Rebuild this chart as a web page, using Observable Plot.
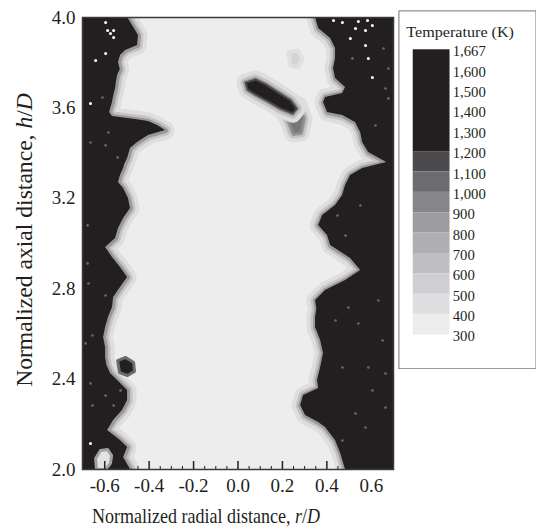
<!DOCTYPE html>
<html><head><meta charset="utf-8">
<script src="https://cdn.jsdelivr.net/npm/d3@7"></script>
<script src="https://cdn.jsdelivr.net/npm/@observablehq/plot@0.6"></script>
<style>
html,body{margin:0;padding:0;background:#fff;overflow:hidden;width:536px;height:530px;}
#wrap{position:relative;width:536px;height:530px;}
#main{position:absolute;left:0;top:0;}
#legend{position:absolute;left:398px;top:10px;}
</style></head><body><div id="wrap"><div id="main"></div><div id="legend"></div></div>
<script>
// ---- data: [h/D, r/D] ----
const leftEdge = [
  [4.000,-0.497],[3.965,-0.475],[3.920,-0.448],[3.876,-0.452],[3.854,-0.506],[3.832,-0.529],
  [3.801,-0.538],[3.770,-0.530],[3.743,-0.542],[3.710,-0.548],[3.686,-0.551],[3.650,-0.560],[3.624,-0.565],[3.580,-0.578],[3.562,-0.565],
  [3.549,-0.461],[3.540,-0.403],[3.522,-0.362],[3.500,-0.326],[3.478,-0.403],[3.447,-0.452],
  [3.420,-0.484],[3.376,-0.497],[3.350,-0.510],[3.332,-0.515],[3.301,-0.529],[3.270,-0.538],[3.243,-0.515],
  [3.199,-0.493],[3.155,-0.484],[3.111,-0.515],[3.066,-0.538],[3.022,-0.551],[2.982,-0.596],
  [2.938,-0.565],[2.894,-0.529],[2.850,-0.497],[2.805,-0.529],[2.761,-0.560],[2.717,-0.565],
  [2.673,-0.583],[2.628,-0.596],[2.584,-0.605],[2.540,-0.596],[2.496,-0.596],[2.460,-0.590],[2.425,-0.574],
  [2.394,-0.542],[2.350,-0.497],[2.305,-0.497],[2.261,-0.520],[2.217,-0.560],[2.173,-0.587],
  [2.128,-0.529],[2.097,-0.497],[2.053,-0.515],[2.000,-0.484]
];
const rightEdge = [
  [4.000,0.349],[3.951,0.363],[3.907,0.417],[3.863,0.439],[3.819,0.439],[3.774,0.430],
  [3.730,0.439],[3.690,0.484],[3.664,0.471],[3.646,0.394],[3.624,0.385],[3.580,0.403],
  [3.566,0.471],[3.535,0.529],[3.491,0.552],[3.447,0.561],[3.403,0.588],[3.358,0.669],
  [3.332,0.561],[3.301,0.507],[3.257,0.484],[3.212,0.471],[3.168,0.439],[3.124,0.381],
  [3.080,0.363],[3.035,0.403],[2.991,0.417],[2.934,0.507],[2.881,0.552],[2.836,0.484],
  [2.792,0.394],[2.748,0.349],[2.710,0.355],[2.673,0.349],[2.628,0.349],[2.571,0.372],[2.513,0.385],
  [2.451,0.372],[2.394,0.358],[2.358,0.363],[2.327,0.295],[2.283,0.282],[2.239,0.304],
  [2.208,0.363],[2.186,0.394],[2.128,0.439],[2.071,0.462],[2.000,0.484]
];
// hot pocket inside the cold core (upper right)
const hotIsland = [
  [3.712,0.034],[3.726,0.079],[3.704,0.124],[3.668,0.182],[3.633,0.237],[3.597,0.264],
  [3.575,0.246],[3.597,0.191],[3.628,0.137],[3.659,0.079],[3.681,0.043]
];
const warmTail = [
  [3.633,0.214],[3.611,0.273],[3.553,0.295],[3.491,0.282],[3.487,0.250],[3.544,0.228],[3.588,0.200]
];
const hotSpot = [
  [2.482,-0.542],[2.496,-0.506],[2.473,-0.470],[2.434,-0.466],[2.416,-0.497],[2.429,-0.533]
];
const warmSmudge = [
  [3.845,0.227],[3.854,0.268],[3.819,0.290],[3.779,0.272],[3.788,0.236]
];
const coldBlob = [
  [2.000,-0.637],[2.049,-0.641],[2.084,-0.619],[2.088,-0.587],[2.062,-0.569],[2.027,-0.574],[2.000,-0.596]
];
const coldSpecks = [
  [3.978,-0.596],[3.942,-0.587],[3.929,-0.574],[3.942,-0.560],[3.912,-0.560],[3.841,-0.596],
  [3.810,-0.641],[3.619,-0.664],[3.987,0.430],[3.978,0.470],[3.982,0.542],[3.987,0.583],
  [3.965,0.605],[3.951,0.529],[3.942,0.574],[3.907,0.506],[3.876,0.574],[3.819,0.587],
  [3.735,0.605],[2.115,-0.664]
];
const warmSpecks = [
  [2.912,-0.677],[2.823,-0.673],[2.770,-0.596],[2.593,-0.655],[2.558,-0.686],[2.381,-0.664],
  [2.327,-0.596],[2.283,-0.655],[2.283,-0.560],[2.350,-0.529],[3.381,-0.542],[3.491,-0.583],
  [3.434,-0.596],[3.447,-0.664],[3.646,-0.610],[3.080,-0.677],
  [2.659,0.439],[2.646,0.542],[2.571,0.651],[2.451,0.587],[2.425,0.664],[2.248,0.529],
  [2.350,0.605],[2.451,0.470],[2.717,0.497],[2.748,0.632],[2.186,0.574],[2.274,0.664],
  [2.128,0.470],[3.774,0.677],[3.686,0.664],[3.642,0.677],[3.863,0.655],[3.522,0.619],
  [3.819,0.515],[3.124,0.448],[3.035,0.484],[3.168,0.551]
];
const xTicks = [-0.6, -0.4, -0.2, 0.0, 0.2, 0.4, 0.6];
const xMinorTicks = [-0.65,-0.55,-0.5,-0.45,-0.35,-0.3,-0.25,-0.15,-0.1,-0.05,0.05,0.1,0.15,0.25,0.3,0.35,0.45,0.5,0.55,0.65];
const yTicks = [2.0, 2.4, 2.8, 3.2, 3.6, 4.0];
// legend
const legendTicks = [1667, 1600, 1500, 1400, 1300, 1200, 1100, 1000, 900, 800, 700, 600, 500, 400, 300];
const bandLow  = [1200, 1100, 1000, 900, 800, 700, 600, 500, 400, 300];
const bandHigh = [1667, 1200, 1100, 1000, 900, 800, 700, 600, 500, 400];
const bandColors = ["#231f20","#4b4b4e","#6c6c70","#86868a","#9d9da0","#afafb2","#bfbfc1","#cfcfd1","#dfdfe1","#ededed"];

// ---- build ----
const BLACK = "#231f20", LIGHT = "#ededed";
const pts = a => a.map(([h, r]) => ({h, r}));
const L = pts(leftEdge), R = pts(rightEdge);
const curve = "linear", closed = "linear-closed";
const halo = (d, c) => [
  Plot.line(d, {x: "r", y: "h", stroke: "#dedede", strokeWidth: 18, curve: c, clip: true}),
  Plot.line(d, {x: "r", y: "h", stroke: "#c4c4c6", strokeWidth: 10, curve: c, clip: true}),
  Plot.line(d, {x: "r", y: "h", stroke: "#9a9a9d", strokeWidth: 5, curve: c, clip: true})
];

const main = Plot.plot({
  width: 536, height: 530,
  marginLeft: 82, marginRight: 143, marginTop: 17, marginBottom: 61,
  x: {domain: [-0.7, 0.7]},
  y: {domain: [2, 4]},
  style: {fontFamily: "Liberation Serif", fontSize: "19px", color: BLACK, background: "transparent"},
  marks: [
    Plot.frame({fill: LIGHT}),
    ...halo(L, curve), ...halo(R, curve),
    Plot.areaX(L, {y: "h", x1: -0.7, x2: "r", fill: BLACK, curve}),
    Plot.areaX(R, {y: "h", x1: "r", x2: 0.7, fill: BLACK, curve}),
    Plot.line(pts(warmSmudge), {x: "r", y: "h", fill: "#d4d4d6", stroke: "#e0e0e0", strokeWidth: 4, curve: closed}),
    ...halo(pts(warmTail), closed),
    Plot.line(pts(warmTail), {x: "r", y: "h", fill: "#77777a", stroke: "#8a8a8d", strokeWidth: 2, curve: closed}),
    ...halo(pts(hotIsland), closed),
    Plot.line(pts(hotIsland), {x: "r", y: "h", fill: BLACK, stroke: "#4b4b4e", strokeWidth: 2, curve: closed}),
    Plot.line(pts(hotSpot), {x: "r", y: "h", fill: BLACK, stroke: "#6c6c70", strokeWidth: 3, curve: closed}),
    Plot.line(pts(coldBlob), {x: "r", y: "h", fill: "#e2e2e3", stroke: "#a0a0a3", strokeWidth: 3, curve: closed, clip: true}),
    Plot.dot(pts(warmSpecks), {x: "r", y: "h", r: 1.3, fill: "#6a6a6d"}),
    Plot.dot(pts(coldSpecks), {x: "r", y: "h", r: 1.5, fill: "#ffffff"}),
    Plot.ruleX(xTicks, {x: d => d, insetTop: 444, stroke: BLACK, strokeWidth: 1.5}),
    Plot.ruleX(xMinorTicks, {x: d => d, insetTop: 449, stroke: BLACK, strokeWidth: 1}),
    Plot.axisX(xTicks, {tickSize: 0, tickPadding: 9, tickFormat: d => d.toFixed(1), label: null, fill: BLACK}),
    Plot.axisY(yTicks, {tickSize: 0, tickPadding: 7, tickFormat: d => d.toFixed(1), label: null, fill: BLACK}),
    Plot.frame({stroke: "#3a3a3a", strokeWidth: 1.5})
  ]
});
document.getElementById("main").appendChild(main);

// axis titles (fitted to the lengths seen in the reference)
const svg = d3.select(main.tagName.toLowerCase() === "svg" ? main : main.querySelector("svg"));
function title(parentSel, parts, size, tx, ty, rot, targetLen, anchor) {
  const t = parentSel.append("text")
    .attr("text-anchor", anchor)
    .attr("font-family", "Liberation Serif").attr("font-size", size).attr("fill", BLACK);
  parts.forEach(([s, it]) => { const sp = t.append("tspan").text(s); if (it) sp.attr("font-style", "italic"); });
  const w = t.node().getComputedTextLength();
  const sx = w > 0 ? targetLen / w : 1;
  t.attr("transform", `translate(${tx},${ty}) rotate(${rot}) scale(${sx},1)`);
  return t;
}
title(svg, [["Normalized radial distance, ", false], ["r", true], ["/", false], ["D", true]], 22, 92, 523, 0, 228, "start");
title(svg, [["Normalized axial distance, ", false], ["h", true], ["/", false], ["D", true]], 23, 32, 240, -90, 294, "middle");

// legend
const idx = v => legendTicks.indexOf(v);
const bands = bandLow.map((lo, i) => ({lo, hi: bandHigh[i], color: bandColors[i]}));
const legend = Plot.plot({
  width: 150, height: 390,
  margin: 0,
  x: {domain: [0, 1], range: [16, 56], axis: null},
  y: {domain: [0, 14], range: [42.7, 352.7], axis: null},
  color: {type: "identity"},
  style: {fontFamily: "Liberation Serif", fontSize: "16px", color: BLACK, background: "white"},
  marks: [
    Plot.frame({stroke: "#6a6a6a", strokeWidth: 1, inset: 0.5}),
    Plot.rect(bands, {x1: 0, x2: 1, y1: d => idx(d.hi), y2: d => idx(d.lo), fill: "color"}),
    Plot.text(legendTicks, {x: 1, y: (d, i) => i, text: d => d3.format(",")(d), textAnchor: "start", dx: 3, dy: 2, fill: BLACK})
  ]
});
document.getElementById("legend").appendChild(legend);
const lsvg = d3.select(legend.tagName.toLowerCase() === "svg" ? legend : legend.querySelector("svg"));
title(lsvg, [["Temperature (K)", false]], 16, 9, 29, 0, 117, "start");
</script></body></html>
